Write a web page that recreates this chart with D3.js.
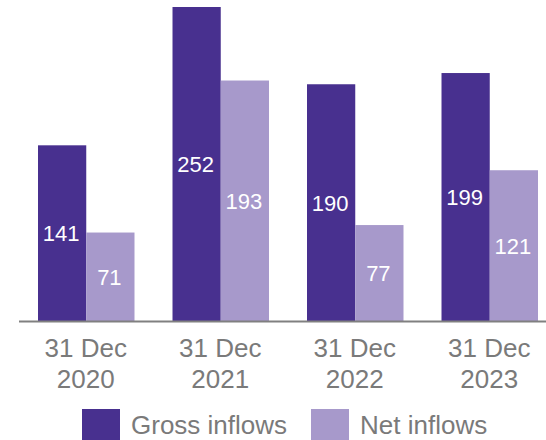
<!DOCTYPE html>
<html>
<head>
<meta charset="utf-8">
<script src="https://cdn.jsdelivr.net/npm/d3@7"></script>
<style>
  html, body { margin: 0; padding: 0; background: #fff; }
  svg { display: block; font-family: "Liberation Sans", Arial, sans-serif; }
</style>
</head>
<body>
<svg id="chart" width="546" height="440"></svg>
<script>
const categories = ["2020", "2021", "2022", "2023"];
const categoryLine1 = ["31 Dec", "31 Dec", "31 Dec", "31 Dec"];
const seriesNames = ["Gross inflows", "Net inflows"];
const grossInflows = [141, 252, 190, 199];
const netInflows = [71, 193, 77, 121];
const seriesColors = ["#48308f", "#a799cb"];

const svg = d3.select("#chart");
const W = 546;
const baseline = 321;

const x0 = d3.scaleBand().domain(categories).range([19, 557]).padding(0);
const x1 = d3.scaleBand().domain(seriesNames).range([0, x0.bandwidth()])
  .paddingInner(0).paddingOuter(0.394);
const y = d3.scaleLinear().domain([0, 252]).range([baseline, 7]);

const seriesData = [grossInflows, netInflows];
const rows = [];
categories.forEach((c, i) => {
  seriesNames.forEach((s, j) => {
    rows.push({ cat: c, series: s, value: seriesData[j][i], color: seriesColors[j] });
  });
});

const g = svg.append("g");
g.selectAll("rect.bar").data(rows).enter().append("rect")
  .attr("class", "bar")
  .attr("x", d => x0(d.cat) + x1(d.series))
  .attr("width", x1.bandwidth())
  .attr("y", d => y(d.value))
  .attr("height", d => y(0) - y(d.value))
  .attr("fill", d => d.color);

g.selectAll("text.val").data(rows).enter().append("text")
  .attr("class", "val")
  .attr("x", d => x0(d.cat) + x1(d.series) + x1.bandwidth() / 2 - 1)
  .attr("y", d => (y(d.value) + y(0)) / 2)
  .attr("dy", "0.36em")
  .attr("text-anchor", "middle")
  .attr("fill", "#ffffff")
  .attr("font-size", "22px")
  .text(d => d.value);

// axis
const xAxis = d3.axisBottom(x0).tickSize(0).tickFormat("");
const axisG = svg.append("g").attr("transform", `translate(0,${baseline})`).call(xAxis);
axisG.select(".domain").remove();
axisG.append("line")
  .attr("x1", 19).attr("x2", W).attr("y1", 0.5).attr("y2", 0.5)
  .attr("stroke", "#808080").attr("stroke-width", 2);

axisG.selectAll(".tick").each(function(d, i) {
  const t = d3.select(this).append("text")
    .attr("text-anchor", "middle")
    .attr("fill", "#7a7a7a")
    .attr("font-size", "26px");
  t.append("tspan").attr("x", -0.5).attr("y", 36).text(categoryLine1[i]);
  t.append("tspan").attr("x", -0.5).attr("y", 67).text(d);
});

// legend
const legendX = [82, 311];
const legend = svg.append("g");
seriesNames.forEach((s, j) => {
  legend.append("rect")
    .attr("x", legendX[j]).attr("y", 409)
    .attr("width", 38).attr("height", 31)
    .attr("fill", seriesColors[j]);
  legend.append("text")
    .attr("x", legendX[j] + 49).attr("y", 434)
    .attr("fill", "#7a7a7a")
    .attr("font-size", "26px")
    .text(s);
});
</script>
</body>
</html>
